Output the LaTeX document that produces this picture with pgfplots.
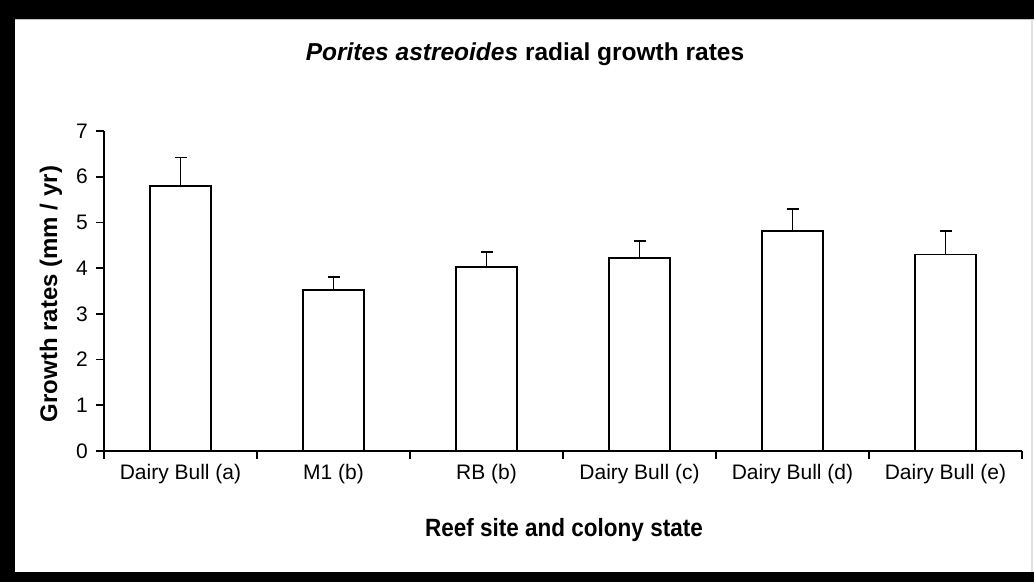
\documentclass[border=0pt]{standalone}
\usepackage{fontspec}
\setmainfont{Liberation Sans}
\newfontfamily\narrowsans[FakeStretch=0.9]{Liberation Sans}
\usepackage{pgfplots}
\pgfplotsset{compat=1.18}
\pgfplotstableread{
x y e
0 5.80 0.62
1 3.52 0.29
2 4.02 0.33
3 4.23 0.37
4 4.81 0.49
5 4.30 0.51
}\growth
\begin{document}
\begin{tikzpicture}
\useasboundingbox (0,0) rectangle (1034bp,-582bp);
\fill[white] (0,0) rectangle (1034bp,-582bp);
\fill[black] (0,0) rectangle (1034bp,-19bp);
\fill[black] (0,0) rectangle (15bp,-582bp);
\fill[black] (0,-572bp) rectangle (1034bp,-582bp);
\draw[gray!50, line width=1bp] (15bp,-19.5bp) -- (1034bp,-19.5bp);
\draw[gray!25, line width=2bp] (1032bp,-19bp) -- (1032bp,-572bp);
\begin{axis}[
  at={(104bp,-451bp)}, anchor=south west,
  scale only axis, width=918bp, height=320bp,
  xmin=-0.5, xmax=5.5, ymin=0, ymax=7,
  axis lines*=left,
  axis line style={line width=1.8bp, black},
  ytick={0,...,7},
  xtick={0,...,5},
  xticklabels={Dairy Bull (a), M1 (b), RB (b), Dairy Bull (c), Dairy Bull (d), Dairy Bull (e)},
  minor xtick={-0.5,0.5,...,5.5},
  major x tick style={draw=none},
  tick align=outside,
  major tick length=8bp, minor tick length=8bp,
  tick style={line width=1.8bp, black},
  tick label style={font=\fontsize{21bp}{21bp}\selectfont},
  /pgf/number format/assume math mode=true,
  yticklabel style={anchor=east, inner sep=0pt, xshift=-8bp},
  xticklabel style={anchor=north, inner sep=0pt, yshift=-5bp},
  ybar, bar width=61bp,
]
\addplot[fill=white, draw=black, line width=1.8bp,
  error bars/.cd, y dir=plus, y explicit,
  error bar style={line width=1.8bp, black},
  error mark options={rotate=90, mark size=6bp, line width=1.8bp, black}]
  table[x=x, y=y, y error=e] {\growth};
\end{axis}
\node[font=\fontsize{24.5bp}{24.5bp}\selectfont\bfseries] at (525bp,-54bp) {\textit{Porites astreoides} radial growth rates};
\node[font=\fontsize{25bp}{25bp}\narrowsans\bfseries] at (564bp,-530bp) {Reef site and colony state};
\node[font=\fontsize{24bp}{24bp}\selectfont\bfseries, rotate=90] at (51bp,-294bp) {Growth rates (mm / yr)};
\end{tikzpicture}
\end{document}
